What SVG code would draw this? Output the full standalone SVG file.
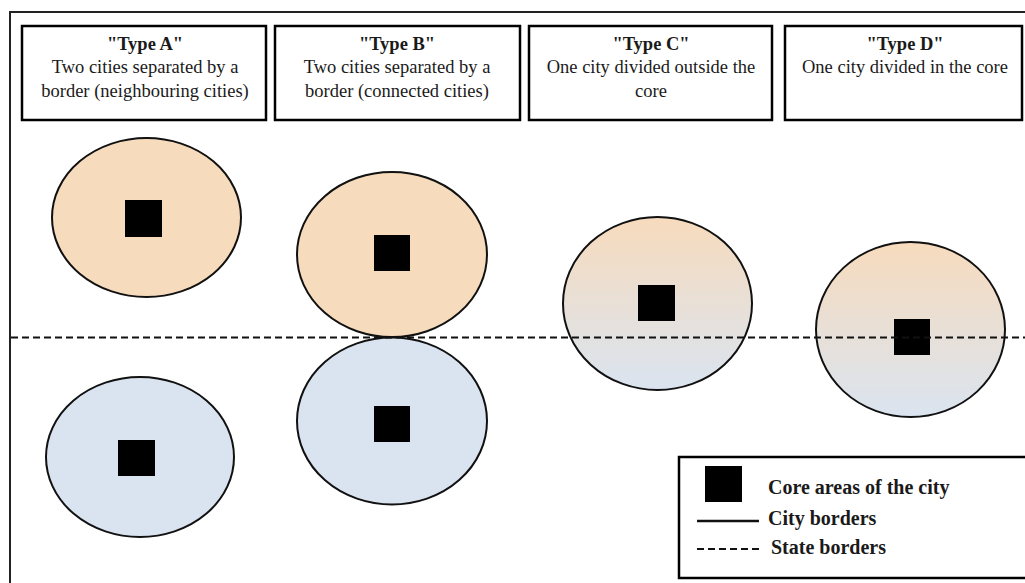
<svg xmlns="http://www.w3.org/2000/svg" width="1025" height="583" viewBox="0 0 1025 583">
<defs>
<linearGradient id="mix" x1="0" y1="0" x2="0" y2="1">
<stop offset="0" stop-color="#f7dbbd"/>
<stop offset="1" stop-color="#dae4f0"/>
</linearGradient>
<style>
.frame{fill:none;stroke:#222;stroke-width:2}
.hdr{fill:#fff;stroke:#000;stroke-width:2.5}
.t{font-family:"Liberation Serif","Times New Roman",serif;font-size:18.5px;fill:#1a1a1a;text-anchor:middle}
.b{font-weight:bold}
.city{stroke:#111;stroke-width:2}
.orange{fill:#f7dbbd}
.blue{fill:#dae4f0}
.grad{fill:url(#mix)}
.core{fill:#000}
.state{stroke:#111;stroke-width:2;stroke-dasharray:7 4;fill:none}
.leg{font-family:"Liberation Serif","Times New Roman",serif;font-size:20px;font-weight:bold;fill:#1a1a1a}
</style>
</defs>
<rect class="frame" x="10" y="12" width="1030" height="600"/>
<g id="typeA-header">
<rect class="hdr" x="22" y="26" width="244" height="94"/>
<text class="t" x="145" y="50"><tspan class="b">"Type A"</tspan></text>
<text class="t" x="145" y="73">Two cities separated by a</text>
<text class="t" x="145" y="97">border (neighbouring cities)</text>
</g>
<g id="typeB-header">
<rect class="hdr" x="275" y="26" width="245" height="94"/>
<text class="t" x="397" y="50"><tspan class="b">"Type B"</tspan></text>
<text class="t" x="397" y="73">Two cities separated by a</text>
<text class="t" x="397" y="97">border (connected cities)</text>
</g>
<g id="typeC-header">
<rect class="hdr" x="529" y="26" width="243" height="94"/>
<text class="t" x="651" y="50"><tspan class="b">"Type C"</tspan></text>
<text class="t" x="651" y="73">One city divided outside the</text>
<text class="t" x="651" y="97">core</text>
</g>
<g id="typeD-header">
<rect class="hdr" x="785" y="26" width="237" height="94"/>
<text class="t" x="905" y="50"><tspan class="b">"Type D"</tspan></text>
<text class="t" x="905" y="73">One city divided in the core</text>
</g>
<g id="typeA-city1">
<ellipse class="city orange" cx="146.5" cy="217.5" rx="94.5" ry="79.5"/>
<rect class="core" x="125" y="200" width="37" height="37"/>
</g>
<g id="typeA-city2">
<ellipse class="city blue" cx="140" cy="457" rx="94" ry="80"/>
<rect class="core" x="118" y="440" width="37" height="36"/>
</g>
<g id="typeB-city1">
<ellipse class="city orange" cx="392" cy="254.5" rx="95" ry="82.5"/>
<rect class="core" x="374" y="235" width="36" height="36"/>
</g>
<g id="typeB-city2">
<ellipse class="city blue" cx="392" cy="421" rx="95" ry="83.5"/>
<rect class="core" x="374" y="406" width="36" height="36"/>
</g>
<g id="typeC-city">
<ellipse class="city grad" cx="657.5" cy="303.5" rx="94.5" ry="86.5"/>
<rect class="core" x="638" y="285" width="37" height="36"/>
</g>
<g id="typeD-city">
<ellipse class="city grad" cx="910.5" cy="329.5" rx="94.5" ry="87.5"/>
<rect class="core" x="894" y="319" width="36" height="36"/>
</g>
<g id="connectors">
<line class="state" x1="11" y1="337.5" x2="1025" y2="337.5"/>
</g>
<g id="legend">
<rect class="hdr" x="679" y="457" width="360" height="121"/>
<rect class="core" x="705" y="466" width="37" height="36"/>
<text class="leg" x="768" y="494">Core areas of the city</text>
<line x1="697" y1="521" x2="759" y2="521" stroke="#111" stroke-width="2.5"/>
<text class="leg" x="768" y="525">City borders</text>
<line class="state" x1="697" y1="549" x2="759" y2="549"/>
<text class="leg" x="771" y="554">State borders</text>
</g>
</svg>
